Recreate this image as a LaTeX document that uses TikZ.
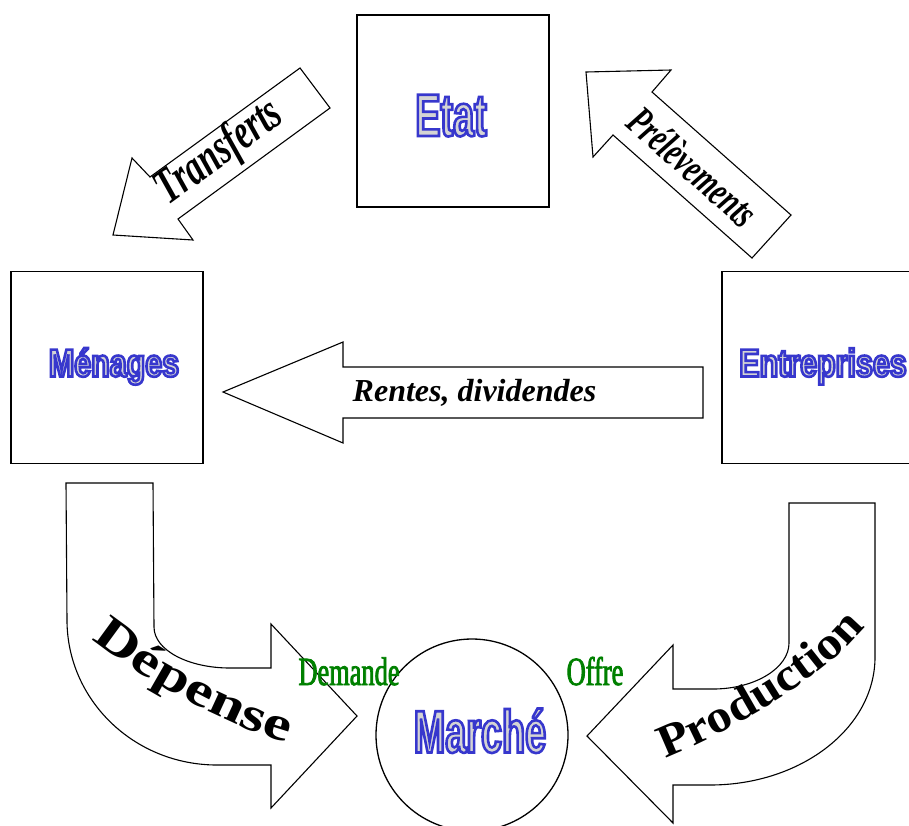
\documentclass[tikz,border=0pt]{standalone}
\usepackage{fontspec}
\setmainfont{Liberation Serif}
\newfontfamily\boxfontA{Liberation Sans}[FakeStretch=0.63]
\newfontfamily\boxfontB{Liberation Sans}[FakeStretch=0.78]
\newfontfamily\arrowfont{Liberation Serif}[FakeStretch=0.68]
\newfontfamily\curvefontA{Liberation Serif}[FakeStretch=1.3]
\newfontfamily\curvefontB{Liberation Serif}[FakeStretch=1.1]
\newfontfamily\greenfont{Liberation Serif}[FakeStretch=0.66]
\usetikzlibrary{decorations.text}
\definecolor{lblblue}{RGB}{55,55,205}
\definecolor{lblfill}{RGB}{212,212,212}
\definecolor{dgreen}{RGB}{0,128,0}
% outlined (WordArt-like) text: fill grey, stroke blue
\newcommand\wordart[1]{{\color{lblfill}\special{pdf:literal direct 2 Tr 2.6 w 0.216 0.216 0.804 RG}#1\special{pdf:literal direct 0 Tr 0.4 w 0 0 0 RG}}}
% slightly heavier green text
\newcommand\greenheavy[1]{\special{pdf:literal direct 2 Tr 0.8 w 0 0.5 0 RG}#1\special{pdf:literal direct 0 Tr 0.4 w 0 0 0 RG}}
\tikzset{
  blockbox/.style={draw, line width=1.6pt, minimum width=192pt, minimum height=192pt, inner sep=0pt},
  marketcircle/.style={draw, circle, line width=1.3pt, minimum size=192pt, inner sep=0pt},
  fatarrow/.style={draw, line width=1.1pt, line join=miter, fill=white},
  boxlbl/.style={inner sep=0pt, anchor=base},
  flowlbl/.style={inner sep=0pt, anchor=center},
  greenlbl/.style={inner sep=0pt, anchor=base, text=dgreen, font=\greenfont\fontsize{40}{40}\selectfont},
}
\begin{document}
\begin{tikzpicture}[x=1pt, y=-1pt]
\useasboundingbox (0,0) rectangle (909,825);
% boxes
\node[blockbox] (etat) at (453,111) {};
\node[blockbox] (menages) at (107,367.5) {};
\node[blockbox] (entreprises) at (818,367.5) {};
\node[marketcircle] (marche) at (472,735) {};
% block arrows
\draw[fatarrow] (300,68) -- (330,108) -- (178,219) -- (193,240) -- (113,235) -- (132,158) -- (150,177) -- cycle;
\draw[fatarrow] (586,72) -- (671,70) -- (652,92) -- (791,215) -- (752,258) -- (613,135) -- (593,157) -- cycle;
\draw[fatarrow] (223,392) -- (343,342) -- (343,367) -- (703,367) -- (703,418) -- (343,418) -- (343,443) -- cycle;
\draw[fatarrow] (66,483) -- (153,483) -- (154,627) .. controls (154,650) and (188,668) .. (230,668) -- (271,668) -- (271,624) -- (357,716) -- (271,808) -- (271,765) -- (217,765) .. controls (134,765) and (67,700) .. (67,620) -- cycle;
\draw[fatarrow] (789,503) -- (875,503) -- (875,657) .. controls (875,728) and (801,785) .. (710,785) -- (673,785) -- (673,823) -- (587,736) -- (673,645) -- (673,689) -- (713,689) .. controls (755,689) and (789,668) .. (789,643) -- cycle;
% flow labels
\node[flowlbl, rotate=36, font=\arrowfont\bfseries\itshape\fontsize{50}{50}\selectfont] (transferts) at (220,153) {Transferts};
\node[flowlbl, rotate=-41.5, font=\arrowfont\bfseries\itshape\fontsize{42}{42}\selectfont] (prelevements) at (693,167) {Prélèvements};
\node[inner sep=0pt, anchor=base, font=\bfseries\itshape\fontsize{32}{32}\selectfont] (rentes) at (474.5,401) {Rentes, dividendes};
% curved labels
\path[decorate, decoration={text along path, text align=center, text={|\curvefontA\bfseries\fontsize{48}{48}\selectfont|Dépense}}] (86,634) .. controls (131,674) and (233,731) .. (294,744);
\path[decorate, decoration={text along path, text align=center, text={|\curvefontB\bfseries\fontsize{46}{46}\selectfont|Production}}] (655,762) .. controls (721,738) and (833,675) .. (872,618);
% green labels
\node[greenlbl] (demande) at (349,685) {\greenheavy{Demande}};
\node[greenlbl] (offre) at (595,685) {\greenheavy{Offre}};
% box labels
\node[boxlbl, font=\boxfontA\bfseries\fontsize{60}{60}\selectfont] (etatlbl) at (451,136) {\wordart{Etat}};
\node[boxlbl, font=\boxfontB\bfseries\fontsize{39}{39}\selectfont] (menageslbl) at (114,376.5) {\wordart{Ménages}};
\node[boxlbl, font=\boxfontB\bfseries\fontsize{39}{39}\selectfont] (entrepriseslbl) at (823,376.5) {\wordart{Entreprises}};
\node[boxlbl, font=\boxfontA\bfseries\fontsize{60}{60}\selectfont] (marchelbl) at (480,752.5) {\wordart{Marché}};
\end{tikzpicture}
\end{document}
